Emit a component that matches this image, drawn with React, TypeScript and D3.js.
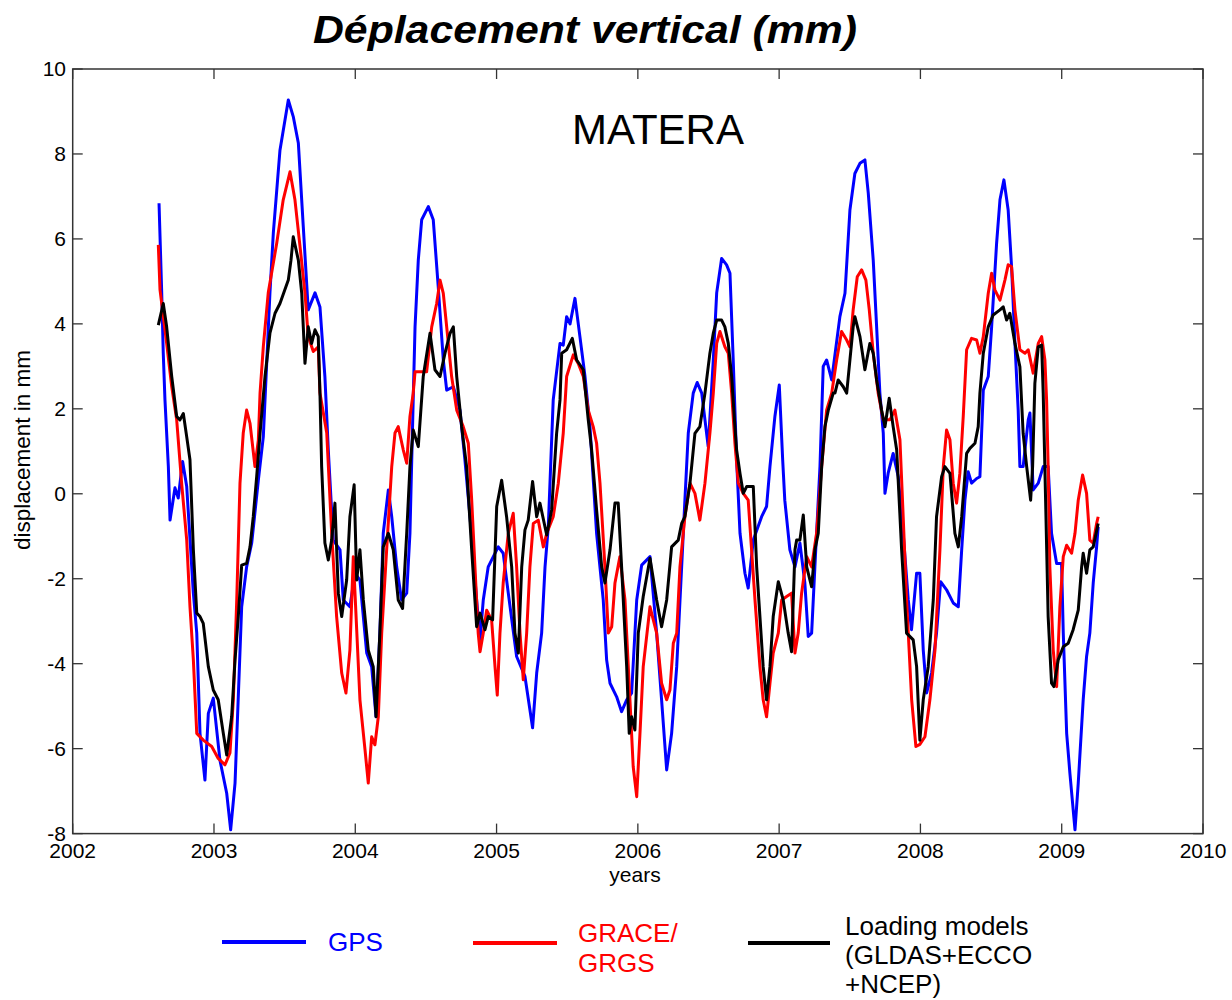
import React from "react";
import * as d3 from "d3";

// GPS vertical displacement at MATERA (mm), [decimal year, value]
const gps: [number, number][] = [
  [2002.611, 6.84], [2002.630, 4.73], [2002.641, 3.31], [2002.653, 2.21], [2002.677, 0.64],
  [2002.689, -0.62], [2002.724, 0.14], [2002.747, -0.1], [2002.778, 0.76], [2002.807, 0.17],
  [2002.854, -2.34], [2002.878, -3.28], [2002.901, -5.64], [2002.936, -6.74], [2002.960, -5.17],
  [2002.995, -4.81], [2003.042, -6.27], [2003.090, -7.05], [2003.118, -7.91], [2003.149, -6.81],
  [2003.196, -2.66], [2003.231, -1.72], [2003.267, -1.16], [2003.314, 0.32], [2003.349, 1.34],
  [2003.396, 4.73], [2003.420, 6.14], [2003.467, 8.09], [2003.526, 9.27], [2003.561, 8.88],
  [2003.597, 8.26], [2003.632, 6.29], [2003.667, 4.33], [2003.715, 4.73], [2003.750, 4.40],
  [2003.785, 2.76], [2003.809, 1.03], [2003.844, -1.09], [2003.892, -1.32], [2003.915, -2.5],
  [2003.962, -2.66], [2003.998, -1.87], [2004.033, -2.03], [2004.081, -3.75], [2004.116, -4.07],
  [2004.147, -5.25], [2004.174, -3.28], [2004.198, -0.93], [2004.234, 0.09], [2004.258, -0.54],
  [2004.293, -1.72], [2004.328, -2.5], [2004.364, -2.34], [2004.387, -0.93], [2004.410, 2.21],
  [2004.423, 3.93], [2004.446, 5.5], [2004.470, 6.45], [2004.517, 6.76], [2004.552, 6.45],
  [2004.587, 4.88], [2004.623, 3.15], [2004.647, 2.44], [2004.694, 2.52], [2004.741, 1.97],
  [2004.776, 0.8], [2004.812, -0.54], [2004.859, -2.5], [2004.883, -3.44], [2004.906, -2.5],
  [2004.941, -1.72], [2004.977, -1.48], [2005.012, -1.25], [2005.047, -1.4], [2005.083, -2.34],
  [2005.142, -3.83], [2005.201, -4.3], [2005.255, -5.51], [2005.284, -4.22], [2005.319, -3.28],
  [2005.343, -1.72], [2005.366, -0.78], [2005.401, 2.21], [2005.449, 3.54], [2005.472, 3.5],
  [2005.496, 4.17], [2005.520, 4.0], [2005.555, 4.6], [2005.590, 3.7], [2005.626, 2.76],
  [2005.661, 1.58], [2005.708, -0.93], [2005.755, -2.5], [2005.779, -3.91], [2005.803, -4.46],
  [2005.850, -4.78], [2005.885, -5.13], [2005.921, -4.85], [2005.956, -4.69], [2005.992, -2.5],
  [2006.027, -1.68], [2006.086, -1.48], [2006.133, -3.28], [2006.168, -4.85], [2006.204, -6.5],
  [2006.239, -5.64], [2006.275, -4.07], [2006.310, -1.72], [2006.333, -0.15], [2006.357, 1.43],
  [2006.392, 2.37], [2006.420, 2.62], [2006.452, 2.37], [2006.475, 1.74], [2006.498, 1.11],
  [2006.534, 3.15], [2006.558, 4.73], [2006.593, 5.54], [2006.628, 5.39], [2006.652, 5.19],
  [2006.675, 3.15], [2006.699, 0.8], [2006.723, -0.93], [2006.758, -1.87], [2006.781, -2.22],
  [2006.817, -1.09], [2006.876, -0.54], [2006.911, -0.3], [2006.935, 0.64], [2006.970, 1.82],
  [2007.001, 2.56], [2007.025, 0.8], [2007.040, -0.15], [2007.076, -1.32], [2007.112, -1.72],
  [2007.147, -1.16], [2007.182, -2.1], [2007.206, -3.36], [2007.230, -3.28], [2007.253, -1.72],
  [2007.289, 0.64], [2007.312, 3.0], [2007.336, 3.15], [2007.372, 2.68], [2007.430, 4.17],
  [2007.466, 4.72], [2007.501, 6.68], [2007.536, 7.54], [2007.572, 7.78], [2007.607, 7.86],
  [2007.631, 7.07], [2007.666, 5.5], [2007.690, 3.93], [2007.713, 2.37], [2007.737, 1.43],
  [2007.749, 0.01], [2007.772, 0.49], [2007.807, 0.95], [2007.843, 0.4], [2007.878, -0.93],
  [2007.914, -2.5], [2007.937, -3.2], [2007.973, -1.87], [2007.996, -1.87], [2008.020, -3.68],
  [2008.044, -4.69], [2008.079, -4.22], [2008.114, -3.28], [2008.143, -2.07], [2008.185, -2.26],
  [2008.232, -2.57], [2008.268, -2.66], [2008.292, -1.32], [2008.315, -0.15], [2008.338, 0.52],
  [2008.362, 0.25], [2008.398, 0.36], [2008.421, 0.4], [2008.445, 2.44], [2008.480, 2.76],
  [2008.504, 3.93], [2008.539, 5.89], [2008.563, 6.92], [2008.591, 7.39], [2008.621, 6.68],
  [2008.645, 5.35], [2008.669, 3.54], [2008.692, 1.97], [2008.704, 0.64], [2008.727, 0.64],
  [2008.763, 1.74], [2008.775, 1.9], [2008.798, 0.09], [2008.834, 0.25], [2008.869, 0.64],
  [2008.904, 0.64], [2008.928, -0.93], [2008.964, -1.64], [2008.999, -1.64], [2009.011, -3.28],
  [2009.035, -5.64], [2009.058, -6.58], [2009.094, -7.91], [2009.117, -6.81], [2009.152, -4.85],
  [2009.176, -3.83], [2009.199, -3.28], [2009.223, -2.1], [2009.247, -1.25], [2009.258, -0.78],
];

// GRACE / GRGS
const grace: [number, number][] = [
  [2002.606, 5.86], [2002.618, 4.8], [2002.665, 3.54], [2002.701, 2.52], [2002.736, 1.74],
  [2002.771, 0.25], [2002.807, -1.09], [2002.830, -2.66], [2002.854, -3.91], [2002.878, -5.64],
  [2002.924, -5.8], [2002.984, -5.95], [2003.030, -6.23], [2003.078, -6.38], [2003.113, -6.1],
  [2003.137, -4.85], [2003.161, -2.5], [2003.184, 0.25], [2003.207, 1.43], [2003.231, 1.97],
  [2003.255, 1.66], [2003.290, 0.64], [2003.314, 1.27], [2003.326, 2.37], [2003.349, 3.46],
  [2003.384, 4.73], [2003.444, 5.9], [2003.490, 6.92], [2003.538, 7.58], [2003.573, 6.92],
  [2003.609, 5.82], [2003.644, 4.73], [2003.667, 3.7], [2003.703, 3.35], [2003.738, 3.46],
  [2003.750, 2.37], [2003.798, 1.43], [2003.833, -0.93], [2003.868, -2.89], [2003.904, -4.22],
  [2003.934, -4.69], [2003.962, -3.68], [2003.986, -1.48], [2004.033, -4.85], [2004.069, -6.03],
  [2004.092, -6.81], [2004.116, -5.72], [2004.139, -5.91], [2004.163, -5.25], [2004.187, -3.28],
  [2004.222, -1.32], [2004.258, 0.64], [2004.281, 1.43], [2004.304, 1.58], [2004.340, 1.03],
  [2004.364, 0.72], [2004.387, 1.82], [2004.410, 2.37], [2004.423, 2.87], [2004.505, 2.87],
  [2004.541, 3.93], [2004.576, 4.48], [2004.600, 5.03], [2004.623, 4.72], [2004.647, 3.93],
  [2004.682, 2.76], [2004.718, 1.97], [2004.764, 1.58], [2004.800, 1.19], [2004.824, -0.15],
  [2004.847, -1.72], [2004.870, -3.28], [2004.883, -3.72], [2004.906, -3.28], [2004.930, -2.74],
  [2004.965, -2.97], [2004.989, -4.07], [2005.005, -4.74], [2005.024, -3.28], [2005.047, -2.1],
  [2005.083, -0.93], [2005.118, -0.46], [2005.142, -1.72], [2005.166, -3.28], [2005.189, -4.38],
  [2005.213, -3.28], [2005.236, -1.72], [2005.260, -0.7], [2005.295, -0.62], [2005.331, -1.25],
  [2005.355, -0.93], [2005.401, -0.54], [2005.437, 0.25], [2005.472, 1.43], [2005.496, 2.76],
  [2005.543, 3.27], [2005.578, 3.07], [2005.614, 2.76], [2005.649, 1.97], [2005.684, 1.58],
  [2005.708, 1.19], [2005.732, 0.25], [2005.767, -1.72], [2005.791, -3.28], [2005.815, -3.13],
  [2005.838, -2.1], [2005.873, -1.48], [2005.909, -2.5], [2005.944, -4.85], [2005.967, -6.42],
  [2005.992, -7.13], [2006.015, -5.64], [2006.038, -4.07], [2006.086, -2.66], [2006.133, -3.28],
  [2006.168, -4.46], [2006.204, -4.85], [2006.227, -4.62], [2006.251, -3.52], [2006.275, -3.28],
  [2006.298, -1.72], [2006.333, -0.54], [2006.369, 0.25], [2006.404, 0.01], [2006.439, -0.62],
  [2006.475, 0.25], [2006.510, 1.43], [2006.534, 2.37], [2006.558, 3.54], [2006.581, 3.82],
  [2006.616, 3.46], [2006.640, 3.31], [2006.664, 2.37], [2006.687, 1.19], [2006.711, 0.25],
  [2006.746, 0.01], [2006.781, -0.15], [2006.805, -1.32], [2006.829, -2.5], [2006.864, -4.07],
  [2006.887, -4.85], [2006.911, -5.25], [2006.935, -4.46], [2006.958, -3.75], [2006.994, -3.28],
  [2007.018, -2.5], [2007.053, -2.42], [2007.088, -2.34], [2007.112, -3.75], [2007.135, -3.28],
  [2007.159, -2.34], [2007.195, -1.48], [2007.230, -1.72], [2007.265, -0.93], [2007.301, 0.64],
  [2007.336, 1.97], [2007.372, 2.37], [2007.407, 3.15], [2007.442, 3.82], [2007.478, 3.62],
  [2007.501, 3.46], [2007.524, 4.33], [2007.553, 5.11], [2007.584, 5.27], [2007.614, 5.03],
  [2007.638, 4.33], [2007.666, 3.31], [2007.701, 2.37], [2007.737, 1.74], [2007.784, 1.74],
  [2007.819, 1.97], [2007.855, 1.27], [2007.878, -0.54], [2007.902, -2.5], [2007.938, -4.85],
  [2007.968, -5.95], [2007.996, -5.9], [2008.032, -5.72], [2008.067, -4.85], [2008.103, -3.68],
  [2008.138, -1.32], [2008.162, 0.64], [2008.185, 1.5], [2008.209, 1.27], [2008.232, 0.25],
  [2008.256, -0.22], [2008.279, 0.48], [2008.303, 1.82], [2008.327, 3.39], [2008.362, 3.66],
  [2008.398, 3.62], [2008.421, 3.31], [2008.445, 3.7], [2008.480, 4.72], [2008.504, 5.19],
  [2008.527, 4.8], [2008.563, 4.56], [2008.598, 5.03], [2008.621, 5.39], [2008.645, 5.35],
  [2008.669, 4.33], [2008.704, 3.39], [2008.740, 3.31], [2008.763, 3.39], [2008.798, 2.84],
  [2008.834, 3.54], [2008.858, 3.7], [2008.881, 3.15], [2008.893, 2.21], [2008.904, 0.64],
  [2008.916, -1.72], [2008.940, -3.68], [2008.964, -4.54], [2008.987, -2.66], [2009.011, -1.48],
  [2009.035, -1.21], [2009.070, -1.4], [2009.094, -0.93], [2009.117, -0.15], [2009.148, 0.44],
  [2009.176, 0.01], [2009.199, -1.09], [2009.223, -1.16], [2009.247, -0.7], [2009.258, -0.54],
];

// Loading models (GLDAS+ECCO+NCEP)
const loading: [number, number][] = [
  [2002.606, 3.97], [2002.641, 4.48], [2002.665, 3.93], [2002.701, 2.76], [2002.736, 1.82],
  [2002.759, 1.74], [2002.783, 1.89], [2002.807, 1.34], [2002.830, 0.8], [2002.854, -1.32],
  [2002.878, -2.81], [2002.901, -2.89], [2002.924, -3.05], [2002.960, -4.07], [2002.995, -4.62],
  [2003.030, -4.85], [2003.066, -5.64], [2003.090, -6.15], [2003.125, -5.25], [2003.149, -3.91],
  [2003.172, -2.89], [2003.196, -1.68], [2003.231, -1.64], [2003.255, -1.25], [2003.278, -0.54],
  [2003.302, 0.4], [2003.326, 1.42], [2003.361, 2.76], [2003.396, 3.78], [2003.432, 4.25],
  [2003.467, 4.48], [2003.526, 5.03], [2003.545, 5.5], [2003.561, 6.05], [2003.597, 5.5],
  [2003.621, 4.72], [2003.632, 3.93], [2003.644, 3.07], [2003.667, 3.93], [2003.691, 3.54],
  [2003.715, 3.86], [2003.738, 3.7], [2003.750, 2.37], [2003.762, 0.64], [2003.785, -1.16],
  [2003.809, -1.56], [2003.833, -1.09], [2003.856, -0.22], [2003.880, -2.34], [2003.904, -2.89],
  [2003.939, -2.03], [2003.962, -0.54], [2003.992, 0.21], [2004.010, -2.03], [2004.033, -1.32],
  [2004.057, -2.5], [2004.092, -3.68], [2004.127, -4.07], [2004.147, -5.25], [2004.174, -3.28],
  [2004.198, -1.25], [2004.234, -0.93], [2004.269, -1.32], [2004.304, -2.5], [2004.335, -2.7],
  [2004.364, -0.93], [2004.387, 0.64], [2004.410, 1.5], [2004.446, 1.11], [2004.481, 2.76],
  [2004.529, 3.78], [2004.564, 2.92], [2004.600, 2.76], [2004.635, 3.31], [2004.671, 3.78],
  [2004.694, 3.93], [2004.718, 2.76], [2004.753, 1.58], [2004.788, 0.64], [2004.824, -1.32],
  [2004.859, -3.13], [2004.883, -2.81], [2004.918, -3.2], [2004.941, -2.89], [2004.972, -2.97],
  [2005.001, -0.3], [2005.036, 0.32], [2005.071, -0.54], [2005.107, -1.72], [2005.130, -3.28],
  [2005.154, -3.75], [2005.178, -1.72], [2005.201, -0.85], [2005.224, -0.62], [2005.255, 0.29],
  [2005.284, -0.54], [2005.307, -0.22], [2005.355, -0.97], [2005.390, -0.38], [2005.425, 1.42],
  [2005.449, 2.21], [2005.461, 3.31], [2005.496, 3.39], [2005.536, 3.66], [2005.567, 3.15],
  [2005.614, 2.92], [2005.649, 1.74], [2005.673, 1.03], [2005.708, -0.38], [2005.744, -1.72],
  [2005.767, -2.1], [2005.803, -1.32], [2005.838, -0.22], [2005.861, -0.22], [2005.885, -1.72],
  [2005.921, -4.07], [2005.939, -5.64], [2005.956, -5.25], [2005.979, -5.56], [2006.003, -3.28],
  [2006.038, -2.42], [2006.086, -1.52], [2006.133, -2.5], [2006.168, -3.13], [2006.204, -2.5],
  [2006.239, -1.25], [2006.286, -1.09], [2006.310, -0.7], [2006.333, -0.54], [2006.369, 0.25],
  [2006.404, 1.42], [2006.439, 1.58], [2006.475, 2.37], [2006.510, 3.31], [2006.534, 3.78],
  [2006.558, 4.09], [2006.593, 4.09], [2006.616, 3.93], [2006.640, 3.54], [2006.664, 2.76],
  [2006.687, 1.58], [2006.699, 1.03], [2006.723, 0.48], [2006.746, 0.01], [2006.770, 0.17],
  [2006.817, 0.17], [2006.841, -1.72], [2006.864, -2.89], [2006.887, -4.07], [2006.911, -4.85],
  [2006.935, -4.07], [2006.958, -2.89], [2006.994, -2.07], [2007.029, -2.5], [2007.064, -3.28],
  [2007.088, -3.72], [2007.112, -1.32], [2007.124, -1.09], [2007.147, -1.09], [2007.171, -0.5],
  [2007.195, -1.72], [2007.230, -2.19], [2007.253, -1.32], [2007.277, -0.93], [2007.301, 0.64],
  [2007.324, 1.58], [2007.348, 1.97], [2007.383, 2.37], [2007.395, 2.37], [2007.418, 2.68],
  [2007.454, 2.52], [2007.478, 2.37], [2007.501, 3.15], [2007.524, 3.93], [2007.536, 4.17],
  [2007.572, 3.7], [2007.607, 2.92], [2007.642, 3.54], [2007.666, 3.31], [2007.690, 2.68],
  [2007.725, 1.97], [2007.749, 1.58], [2007.779, 2.25], [2007.807, 1.58], [2007.832, 1.03],
  [2007.867, -1.32], [2007.902, -3.28], [2007.949, -3.44], [2007.973, -4.07], [2007.996, -5.8],
  [2008.020, -4.85], [2008.055, -4.07], [2008.091, -2.5], [2008.114, -0.54], [2008.150, 0.4],
  [2008.173, 0.64], [2008.209, 0.48], [2008.244, -0.93], [2008.268, -1.25], [2008.292, -0.54],
  [2008.327, 0.95], [2008.350, 1.07], [2008.386, 1.19], [2008.409, 1.58], [2008.421, 2.37],
  [2008.445, 3.31], [2008.480, 3.93], [2008.515, 4.21], [2008.563, 4.33], [2008.586, 4.4],
  [2008.610, 4.09], [2008.633, 4.25], [2008.669, 3.54], [2008.704, 2.99], [2008.727, 1.42],
  [2008.752, 0.64], [2008.780, -0.15], [2008.794, 0.64], [2008.810, 2.6], [2008.834, 3.46],
  [2008.858, 3.5], [2008.869, 2.37], [2008.886, -0.15], [2008.904, -2.89], [2008.928, -4.46],
  [2008.945, -4.54], [2008.975, -3.91], [2009.011, -3.6], [2009.046, -3.52], [2009.081, -3.2],
  [2009.117, -2.74], [2009.141, -1.72], [2009.152, -1.4], [2009.176, -1.87], [2009.199, -1.32],
  [2009.223, -1.25], [2009.258, -0.7],
];

const xTicks = [2002, 2003, 2004, 2005, 2006, 2007, 2008, 2009, 2010];
const yTicks = [-8, -6, -4, -2, 0, 2, 4, 6, 8, 10];

const FONT = "'Liberation Sans', Arial, Helvetica, sans-serif";
const AXIS = "#333";

export default function App() {
  const left = 72.7, right = 1203, top = 69, bottom = 833.6;
  const x = d3.scaleLinear([2002, 2010], [left, right]);
  const y = d3.scaleLinear([-8, 10], [bottom, top]);
  const line = d3.line<[number, number]>((d) => x(d[0]), (d) => y(d[1]));
  const tick = 10;

  const series = [
    { data: gps, color: "#0000ff" },
    { data: grace, color: "#ff0000" },
    { data: loading, color: "#000000" },
  ];

  return (
    <svg
      width={1232}
      height={1000}
      style={{ position: "absolute", left: 0, top: 0, background: "#fff" }}
      fontFamily={FONT}
    >
      <rect x={0} y={0} width={1232} height={1000} fill="#fff" />
      <text
        x={585}
        y={43}
        textAnchor="middle"
        fontSize={38}
        fontWeight="bold"
        fontStyle="italic"
        textLength={544}
        lengthAdjust="spacingAndGlyphs"
      >
        Déplacement vertical (mm)
      </text>

      {series.map((s, i) => (
        <path
          key={i}
          d={line(s.data) || ""}
          fill="none"
          stroke={s.color}
          strokeWidth={3}
          strokeLinejoin="round"
        />
      ))}

      <rect x={left} y={top} width={right - left} height={bottom - top} fill="none" stroke={AXIS} strokeWidth={1.5} />
      {xTicks.map((t) => (
        <g key={"x" + t}>
          <line x1={x(t)} x2={x(t)} y1={bottom} y2={bottom - tick} stroke={AXIS} strokeWidth={1.3} />
          <line x1={x(t)} x2={x(t)} y1={top} y2={top + tick} stroke={AXIS} strokeWidth={1.3} />
          <text x={x(t)} y={858} textAnchor="middle" fontSize={21}>
            {t}
          </text>
        </g>
      ))}
      {yTicks.map((t) => (
        <g key={"y" + t}>
          <line x1={left} x2={left + tick} y1={y(t)} y2={y(t)} stroke={AXIS} strokeWidth={1.3} />
          <line x1={right} x2={right - tick} y1={y(t)} y2={y(t)} stroke={AXIS} strokeWidth={1.3} />
          <text x={66} y={y(t) + 7} textAnchor="end" fontSize={21}>
            {t}
          </text>
        </g>
      ))}

      <text x={635} y={882} textAnchor="middle" fontSize={21}>
        years
      </text>
      <text
        transform="translate(30,450) rotate(-90)"
        textAnchor="middle"
        fontSize={22.5}
      >
        displacement in mm
      </text>
      <text x={658} y={144} textAnchor="middle" fontSize={42}>
        MATERA
      </text>

      {/* legend */}
      <line x1={222} x2={306} y1={942} y2={942} stroke="#0000ff" strokeWidth={4} />
      <text x={328} y={951} fontSize={26} fill="#0000ff">GPS</text>
      <line x1={473} x2={557} y1={943} y2={943} stroke="#ff0000" strokeWidth={4} />
      <text x={578} y={942} fontSize={26} fill="#ff0000">GRACE/</text>
      <text x={578} y={972} fontSize={26} fill="#ff0000">GRGS</text>
      <line x1={748} x2={830} y1={943} y2={943} stroke="#000" strokeWidth={4} />
      <text x={845} y={935} fontSize={26}>Loading models</text>
      <text x={845} y={964} fontSize={26}>(GLDAS+ECCO</text>
      <text x={845} y={993} fontSize={26}>+NCEP)</text>
    </svg>
  );
}
